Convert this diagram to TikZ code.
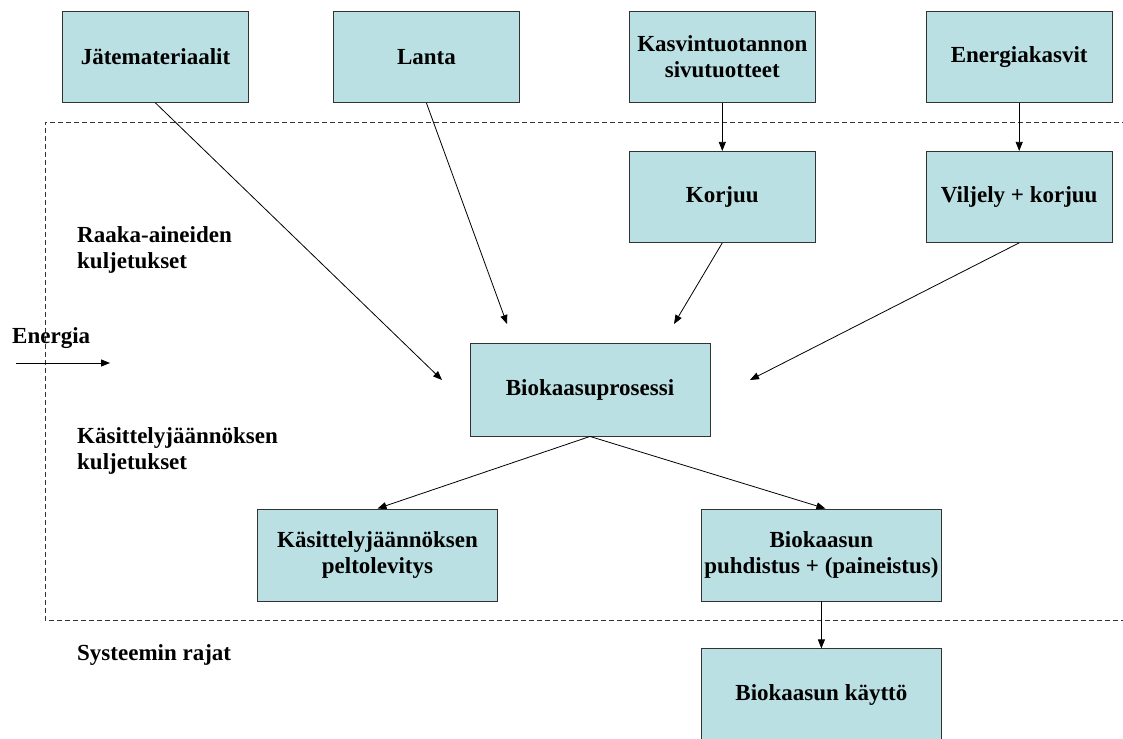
\documentclass[tikz,border=0pt]{standalone}
\usepackage{fontspec}
\setmainfont{Liberation Serif}
\usetikzlibrary{arrows.meta, positioning}
\definecolor{boxC} {RGB}{187, 224, 227}
\definecolor{lineC}{RGB}{ 51,  51,  51}
\tikzset{
  box/.style  = {rectangle, draw=lineC, fill=boxC, line width=0.9pt,
                 minimum width=186pt, minimum height=91pt, inner sep=0pt,
                 align=center, font=\bfseries\fontsize{23}{26}\selectfont},
  wbox/.style = {box, minimum width=240pt},
  arr/.style  = {-{Triangle[length=9pt, width=7pt]}, line width=0.8pt, color=black},
  lbl/.style  = {anchor=west, align=left, inner sep=0pt,
                 font=\bfseries\fontsize{23}{26}\selectfont},
  rajat/.style= {draw=lineC, line width=0.9pt, dash pattern=on 5pt off 3pt},
}

\begin{document}
\begin{tikzpicture}[x=1pt, y=-1pt]
\useasboundingbox (0,0) rectangle (1123,738);

% ---- System boundary --------------------------------------------------------
\draw[rajat] (1135,122) -- (45,122) -- (45,620) -- (1135,620);

% ---- Raw materials ----------------------------------------------------------
\node[box] (jate) at (155.5,57) {Jätemateriaalit};
\node[box, right=84pt of jate]   (lanta) {Lanta};
\node[box, right=109pt of lanta] (kasvi) {Kasvintuotannon\\sivutuotteet};
\node[box, right=110pt of kasvi] (energ) {Energiakasvit};

\node[box, below=48pt of kasvi] (korjuu)  {Korjuu};
\node[box, below=48pt of energ] (viljely) {Viljely + korjuu};

\draw[arr] (kasvi.south) -- (korjuu.north);
\draw[arr] (energ.south) -- (viljely.north);

% ---- Process ----------------------------------------------------------------
\node[wbox, minimum height=93pt] (bio) at (590,389.5) {Biokaasuprosessi};

\coordinate (inJ) at (442,380);
\coordinate (inL) at (507,324);
\coordinate (inK) at (674,324);
\coordinate (inV) at (750,380);

\draw[arr] (jate.south)    -- (inJ);
\draw[arr] (lanta.south)   -- (inL);
\draw[arr] (korjuu.south)  -- (inK);
\draw[arr] (viljely.south) -- (inV);

% ---- Outputs ----------------------------------------------------------------
\node[wbox, minimum height=92pt] (pelto) at (377.5,555)
  {Käsittelyjäännöksen\\peltolevitys};
\node[wbox, minimum height=92pt, right=203pt of pelto] (puhd)
  {Biokaasun\\puhdistus + (paineistus)};
\node[wbox, minimum height=92pt, below=47pt of puhd] (kaytto)
  {Biokaasun käyttö};

\draw[arr] (bio.south) -- (pelto.north);
\draw[arr] (bio.south) -- ([xshift=4pt]puhd.north);
\draw[arr] (puhd.south) -- (kaytto.north);

% ---- Side labels ------------------------------------------------------------
\node[lbl] (raaka)   at (77,250) {Raaka-aineiden\\kuljetukset};
\node[lbl] (kasjaan) at (77,451) {Käsittelyjäännöksen\\kuljetukset};
\node[lbl] (rajat)   at (77,655) {Systeemin rajat};
\node[lbl] (energia) at (12,338) {Energia};

\coordinate (eA) at (16,363);
\coordinate (eB) at (110,363);
\draw[arr] (eA) -- (eB);

\end{tikzpicture}
\end{document}
